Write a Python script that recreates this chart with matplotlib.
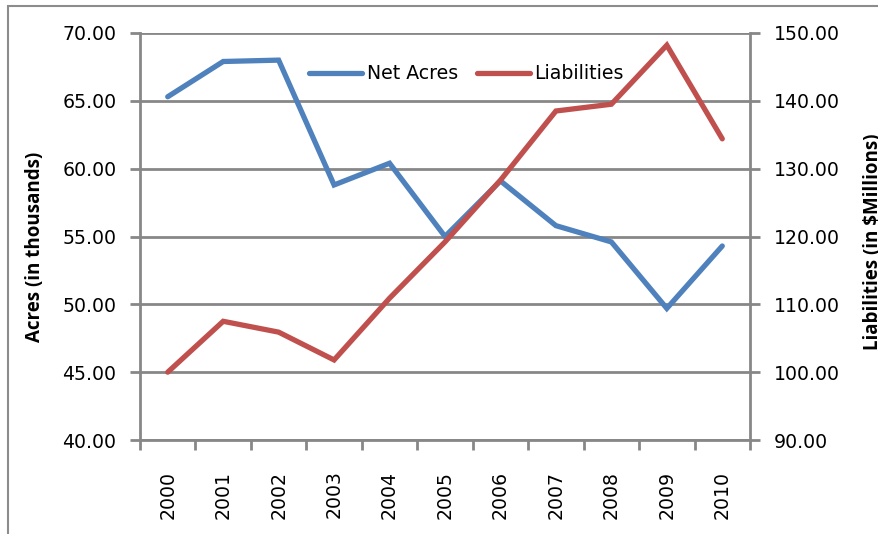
import numpy as np
import matplotlib.pyplot as plt
from matplotlib.patches import Rectangle

years = ["2000", "2001", "2002", "2003", "2004", "2005",
         "2006", "2007", "2008", "2009", "2010"]
net_acres = [65.3, 67.9, 68.0, 58.8, 60.4, 55.0, 59.1, 55.8, 54.6, 49.7, 54.3]
liabilities = [100.0, 107.5, 105.9, 101.8, 110.9, 119.2, 128.3, 138.5, 139.5, 148.2, 134.4]

BLUE = "#4F81BD"
RED = "#C0504D"
GREY = "#878787"
FS = 13.6

plt.rcParams["font.family"] = ["DejaVu Sans"]

W, H = 879, 534
fig = plt.figure(figsize=(W / 100, H / 100), dpi=100)
ax = fig.add_axes([140 / W, 1 - 440 / H, 610 / W, 407 / H])
ax2 = ax.twinx()

x = np.arange(len(years)) + 0.5
ax.plot(x, net_acres, color=BLUE, lw=3.8, solid_capstyle="round",
        solid_joinstyle="miter", label="Net Acres", zorder=3)
ax2.plot(x, liabilities, color=RED, lw=3.8, solid_capstyle="round",
         solid_joinstyle="miter", label="Liabilities", zorder=3)

ax.set_xlim(0, len(years))
ax.set_ylim(40, 70)
ax2.set_ylim(90, 150)
ax.set_yticks(np.arange(40, 71, 5))
ax2.set_yticks(np.arange(90, 151, 10))
ax.set_yticklabels([f"{v:.2f}" for v in np.arange(40, 71, 5)])
ax2.set_yticklabels([f"{v:.2f}" for v in np.arange(90, 151, 10)])

ax.set_xticks(np.arange(len(years) + 1))
ax.set_xticklabels([])
ax.set_xticks(x, minor=True)
ax.set_xticklabels(years, minor=True, rotation=90)
ax.tick_params(axis="x", which="minor", length=0, pad=22, labelsize=FS)
ax.tick_params(axis="x", which="major", length=7, width=2, color=GREY)
ax.tick_params(axis="y", length=7, width=2, color=GREY, labelsize=FS, pad=10)
ax2.tick_params(axis="y", length=7, width=2, color=GREY, labelsize=FS, pad=10)

ax.grid(axis="y", color=GREY, lw=2)
ax.set_axisbelow(True)
for a in (ax, ax2):
    for s in a.spines.values():
        s.set_visible(False)
ax.spines["left"].set_visible(True)
ax.spines["left"].set_color(GREY)
ax.spines["left"].set_linewidth(2)
ax.spines["bottom"].set_visible(True)
ax.spines["bottom"].set_color(GREY)
ax.spines["bottom"].set_linewidth(2)
ax2.spines["right"].set_visible(True)
ax2.spines["right"].set_color(GREY)
ax2.spines["right"].set_linewidth(2)

fig.text(35 / W, 1 - 247 / H, "Acres (in thousands)", rotation=90,
         ha="center", va="center", fontsize=13.5, fontweight="bold",
         family="Open Sans")
fig.text(873 / W, 1 - 242 / H, "Liabilities (in $Millions)", rotation=90,
         ha="center", va="center", fontsize=13.5, fontweight="bold",
         family="Open Sans")

h1, l1 = ax.get_legend_handles_labels()
h2, l2 = ax2.get_legend_handles_labels()
ax2.legend(h1 + h2, l1 + l2, loc="upper center", bbox_to_anchor=(0.535, 0.965),
           ncol=2, frameon=False, fontsize=FS, handlelength=2.8,
           columnspacing=1.0, handletextpad=0.25)

fig.patches.append(Rectangle((8 / W, -0.1), 1.2, 1 - 6 / H + 0.1,
                             transform=fig.transFigure, fill=False,
                             edgecolor="#8c8c8c", lw=1.5))

fig.savefig("out.png", dpi=100)
